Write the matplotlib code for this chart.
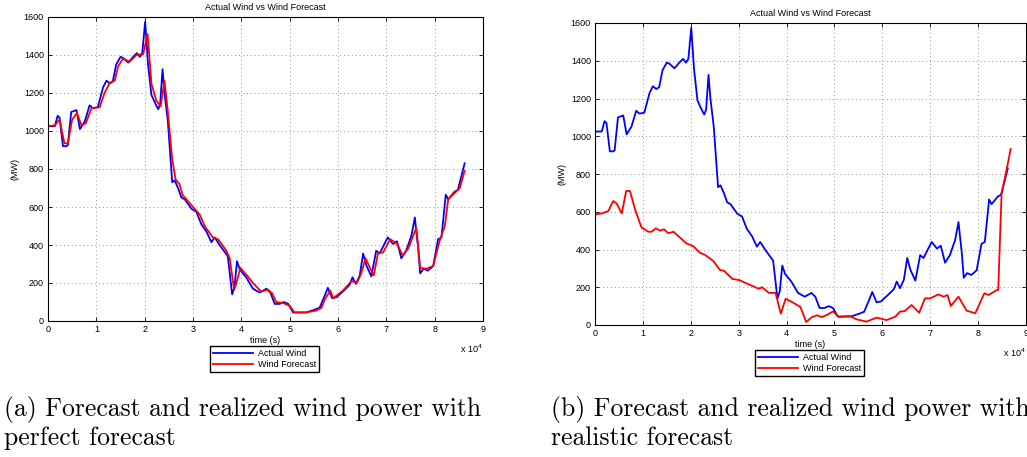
import matplotlib.pyplot as plt

# time axis in units of 1e4 seconds
t_actual = [0, 0.14, 0.2, 0.24, 0.31, 0.38, 0.41, 0.48, 0.59, 0.66, 0.76, 0.86, 0.93, 1.03,
            1.14, 1.21, 1.28, 1.34, 1.41, 1.5, 1.55, 1.66, 1.76, 1.84, 1.9, 1.95, 2.01, 2.07,
            2.14, 2.21, 2.28, 2.32, 2.37, 2.41, 2.48, 2.57, 2.62, 2.69, 2.76, 2.83, 2.97, 3.07,
            3.17, 3.28, 3.38, 3.45, 3.55, 3.68, 3.72, 3.81, 3.86, 3.91, 3.97, 4.1, 4.24, 4.38,
            4.52, 4.6, 4.69, 4.79, 4.88, 4.97, 5.07, 5.21, 5.34, 5.52, 5.62, 5.72, 5.79, 5.88,
            5.97, 6.1, 6.24, 6.3, 6.37, 6.45, 6.52, 6.59, 6.69, 6.79, 6.86, 7.03, 7.14, 7.22,
            7.31, 7.41, 7.52, 7.59, 7.66, 7.7, 7.77, 7.86, 7.97, 8.07, 8.14, 8.23, 8.28, 8.41,
            8.48, 8.62]
actual = [1025, 1025, 1080, 1070, 920, 920, 925, 1100, 1110, 1010, 1050, 1135, 1120, 1125,
          1230, 1265, 1250, 1260, 1350, 1390, 1385, 1360, 1390, 1410, 1390, 1410, 1575, 1350,
          1190, 1150, 1115, 1140, 1325, 1200, 1050, 730, 740, 700, 650, 640, 590, 575,
          510, 470, 415, 440, 400, 355, 340, 140, 180, 315, 270, 230, 170, 150,
          170, 150, 90, 90, 100, 90, 45, 45, 45, 60, 70, 130, 175, 120,
          125, 155, 190, 230, 195, 240, 355, 290, 235, 370, 355, 440, 405, 420,
          330, 370, 450, 545, 380, 250, 275, 265, 290, 430, 440, 665, 640, 680,
          690, 830]

# perfect forecast (panel a)
t_perfect = [0, 0.14, 0.24, 0.34, 0.41, 0.5, 0.6, 0.69, 0.78, 0.9, 1.07, 1.17, 1.28, 1.38,
             1.45, 1.55, 1.69, 1.83, 1.97, 2.06, 2.14, 2.24, 2.33, 2.41, 2.48, 2.57, 2.64,
             2.72, 2.79, 2.83, 3.0, 3.14, 3.24, 3.41, 3.52, 3.69, 3.76, 3.85, 3.9, 3.98, 4.1,
             4.24, 4.41, 4.55, 4.64, 4.72, 4.86, 5.0, 5.1, 5.34, 5.55, 5.66, 5.72, 5.84, 5.9,
             6.1, 6.28, 6.39, 6.48, 6.57, 6.66, 6.74, 6.83, 6.93, 7.08, 7.21, 7.34, 7.45,
             7.62, 7.7, 7.83, 7.97, 8.1, 8.21, 8.28, 8.52, 8.62]
perfect = [1025, 1030, 1060, 935, 935, 1060, 1095, 1030, 1040, 1120, 1125, 1200, 1255, 1265,
           1340, 1380, 1365, 1400, 1405, 1510, 1250, 1160, 1130, 1265, 1100, 850, 745,
           720, 660, 650, 600, 560, 500, 440, 430, 370, 330, 165, 200, 280, 245,
           200, 155, 165, 145, 100, 95, 80, 45, 45, 55, 70, 110, 160, 120,
           160, 210, 200, 250, 330, 280, 240, 360, 360, 430, 410, 345, 380,
           490, 280, 275, 290, 420, 500, 640, 700, 790]

# realistic forecast (panel b)
t_real = [0, 0.14, 0.28, 0.38, 0.45, 0.56, 0.65, 0.73, 0.84, 0.97, 1.11, 1.18, 1.27, 1.36,
          1.44, 1.53, 1.64, 1.74, 1.91, 2.05, 2.19, 2.3, 2.47, 2.61, 2.69, 2.87, 3.01,
          3.22, 3.42, 3.49, 3.63, 3.77, 3.88, 3.98, 4.12, 4.29, 4.41, 4.53, 4.64, 4.74,
          4.85, 4.97, 5.09, 5.32, 5.46, 5.67, 5.88, 6.09, 6.27, 6.37, 6.47, 6.61, 6.77,
          6.89, 7.0, 7.17, 7.28, 7.36, 7.43, 7.59, 7.76, 7.94, 8.13, 8.22, 8.39, 8.42,
          8.49, 8.58, 8.68]
realistic = [586, 591, 604, 657, 644, 591, 710, 710, 609, 517, 494, 494, 512, 500,
             507, 486, 494, 471, 432, 418, 383, 371, 339, 291, 288, 244, 238,
             214, 192, 200, 170, 170, 60, 139, 121, 95, 16, 42, 51, 42,
             54, 72, 42, 48, 30, 18, 39, 26, 44, 71, 74, 106, 65,
             141, 141, 162, 150, 159, 101, 150, 76, 62, 168, 159, 185, 185,
             697, 804, 932]

xticks = list(range(10))
yticks = [0, 200, 400, 600, 800, 1000, 1200, 1400, 1600]
captions = ["(a) Forecast and realized wind power with\nperfect forecast",
            "(b) Forecast and realized wind power with\nrealistic forecast"]

plt.rcParams['font.family'] = ['Liberation Sans', 'DejaVu Sans']

fig = plt.figure(figsize=(10.27, 4.57), dpi=100)
W, H = 1027.0, 457.0

panels = [
    # x0, x9, ytop, ybottom (pixels), forecast series
    (48, 483, 17, 321, t_perfect, perfect),
    (595, 1026, 23, 325, t_real, realistic),
]

for i, (x0, x9, ytop, ybot, tf, fc) in enumerate(panels):
    ax = fig.add_axes([x0 / W, 1 - ybot / H, (x9 - x0) / W, (ybot - ytop) / H])
    l1, = ax.plot(t_actual, actual, color='#0000ff', lw=1.3, label='Actual Wind')
    l2, = ax.plot(tf, fc, color='#ff0000', lw=1.3, label='Wind Forecast')
    ax.set_xlim(0, 9)
    ax.set_ylim(0, 1600)
    ax.set_xticks(xticks)
    ax.set_yticks(yticks)
    ax.tick_params(direction='in', labelsize=6.5, length=3, width=0.6,
                   top=True, right=True, pad=3)
    ax.grid(True, linestyle=(0, (1, 3)), color='#999999', linewidth=0.7)
    for s in ax.spines.values():
        s.set_linewidth(0.8)
    ax.set_title('Actual Wind vs Wind Forecast', fontsize=6.5, pad=5)
    ax.set_xlabel('time (s)', fontsize=6.5, labelpad=1)
    ax.set_ylabel('(MW)', fontsize=6.5, labelpad=3)
    ax.text(1.0, -0.07, r'x 10$^4$', transform=ax.transAxes, fontsize=6.5,
            ha='right', va='top')
    cx = (x0 + x9) / 2.0
    fig.legend(handles=[l1, l2], loc='upper center',
               bbox_to_anchor=(cx / W - 0.001, 1 - (ybot + 25) / H),
               fontsize=6.5, frameon=True, fancybox=False, edgecolor='black',
               framealpha=1, borderpad=0.3, labelspacing=0.3, handlelength=4.5,
               handletextpad=0.5, borderaxespad=0)
    fig.text((x0 - 44) / W, 1 - 423 / H, captions[i], family='cmr10',
             fontsize=18.5, va='center', ha='left', linespacing=1.2)

fig.savefig('out.png', dpi=100)
